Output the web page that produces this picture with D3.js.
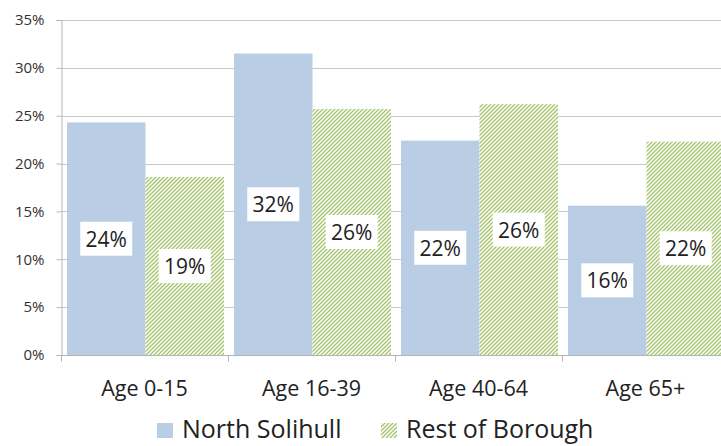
<!DOCTYPE html>
<html>
<head>
<meta charset="utf-8">
<script src="https://cdn.jsdelivr.net/npm/d3@7"></script>
<style>
  body { margin: 0; background: #fff; }
  svg { display: block; font-family: "Open Sans", sans-serif; }
</style>
</head>
<body>
<svg id="chart" width="721" height="446"></svg>
<script>
// Data
const categories = ["Age 0-15", "Age 16-39", "Age 40-64", "Age 65+"];
const seriesNames = ["North Solihull", "Rest of Borough"];
const northSolihull = [0.243, 0.315, 0.224, 0.156];
const restOfBorough = [0.186, 0.257, 0.262, 0.223];
const yTicks = [0, 0.05, 0.10, 0.15, 0.20, 0.25, 0.30, 0.35];

const svg = d3.select("#chart");
const margin = {left: 61, top: 20, bottom: 91};
const height = 446;
const groupW = 167;

const x0 = d3.scaleBand()
    .domain(categories)
    .range([margin.left, margin.left + groupW * categories.length])
    .padding(0);

const x1 = d3.scaleBand()
    .domain(seriesNames)
    .range([6, groupW - 4])
    .padding(0);

const y = d3.scaleLinear()
    .domain([0, 0.35])
    .range([height - margin.bottom, margin.top]);

const fmt = d3.format(".0%");

// hatch pattern for the second series
const defs = svg.append("defs");
const pat = defs.append("pattern")
    .attr("id", "hatch")
    .attr("patternUnits", "userSpaceOnUse")
    .attr("width", 4)
    .attr("height", 4);
pat.append("rect").attr("width", 4).attr("height", 4).attr("fill", "#fff");
pat.append("path")
    .attr("d", "M-1,1 l2,-2 M0,4 l4,-4 M3,5 l2,-2")
    .attr("stroke", "#a3c46a")
    .attr("stroke-width", 1.3);

const fills = {"North Solihull": "#b9cde5", "Rest of Borough": "url(#hatch)"};

// gridlines
svg.append("g")
    .selectAll("line")
    .data(yTicks.slice(1))
    .join("line")
    .attr("x1", margin.left)
    .attr("x2", 721)
    .attr("y1", d => Math.round(y(d)) + 0.5)
    .attr("y2", d => Math.round(y(d)) + 0.5)
    .attr("stroke", "#c8c8c8")
    .attr("stroke-width", 1);

// y axis
const yAxis = svg.append("g")
    .attr("transform", `translate(${margin.left + 0.5},0)`)
    .call(d3.axisLeft(y).tickValues(yTicks).tickFormat(fmt).tickSize(5).tickPadding(12));
yAxis.select(".domain").attr("stroke", "#b4b4b4");
yAxis.selectAll(".tick line").attr("stroke", "#b4b4b4");
yAxis.selectAll(".tick text")
    .attr("font-size", 15)
    .attr("fill", "#333")
    .attr("font-family", "'Open Sans', sans-serif");

// bars
const rows = categories.map((c, i) => ({
    cat: c,
    values: [
        {series: seriesNames[0], value: northSolihull[i]},
        {series: seriesNames[1], value: restOfBorough[i]}
    ]
}));

const groups = svg.append("g")
    .selectAll("g")
    .data(rows)
    .join("g")
    .attr("transform", d => `translate(${x0(d.cat)},0)`);

groups.selectAll("rect")
    .data(d => d.values)
    .join("rect")
    .attr("x", d => x1(d.series))
    .attr("width", x1.bandwidth())
    .attr("y", d => y(d.value))
    .attr("height", d => y(0) - y(d.value))
    .attr("fill", d => fills[d.series]);

// labels with white boxes
const labels = groups.selectAll("g.lab")
    .data(d => d.values)
    .join("g")
    .attr("class", "lab")
    .attr("transform", d => `translate(${x1(d.series) + x1.bandwidth() / 2},${(y(0) + y(d.value)) / 2})`);

labels.append("rect")
    .attr("x", -26)
    .attr("y", -17)
    .attr("width", 52)
    .attr("height", 34)
    .attr("fill", "#fff");

labels.append("text")
    .attr("text-anchor", "middle")
    .attr("y", 8)
    .attr("font-size", 21)
    .attr("fill", "#222")
    .text(d => fmt(d.value));

// x axis
const xAxis = svg.append("g")
    .attr("transform", `translate(0,${y(0) + 0.5})`);
xAxis.append("line")
    .attr("x1", margin.left)
    .attr("x2", 721)
    .attr("stroke", "#b4b4b4");
xAxis.selectAll("line.tk")
    .data(categories)
    .join("line")
    .attr("class", "tk")
    .attr("x1", d => x0(d) + 0.5)
    .attr("x2", d => x0(d) + 0.5)
    .attr("y1", 0)
    .attr("y2", 6)
    .attr("stroke", "#b4b4b4");
xAxis.selectAll("text")
    .data(categories)
    .join("text")
    .attr("x", d => x0(d) + groupW / 2)
    .attr("y", 40)
    .attr("text-anchor", "middle")
    .attr("font-size", 21.5)
    .attr("fill", "#222")
    .text(d => d);

// legend
const legend = svg.append("g").attr("transform", "translate(157,423)");
const legX = [0, 224];
const li = legend.selectAll("g")
    .data(seriesNames)
    .join("g")
    .attr("transform", (d, i) => `translate(${legX[i]},0)`);
li.append("rect")
    .attr("width", 16)
    .attr("height", 15)
    .attr("fill", d => fills[d]);
li.append("text")
    .attr("x", 25)
    .attr("y", 15)
    .attr("font-size", 25)
    .attr("fill", "#222")
    .text(d => d);
</script>
</body>
</html>
